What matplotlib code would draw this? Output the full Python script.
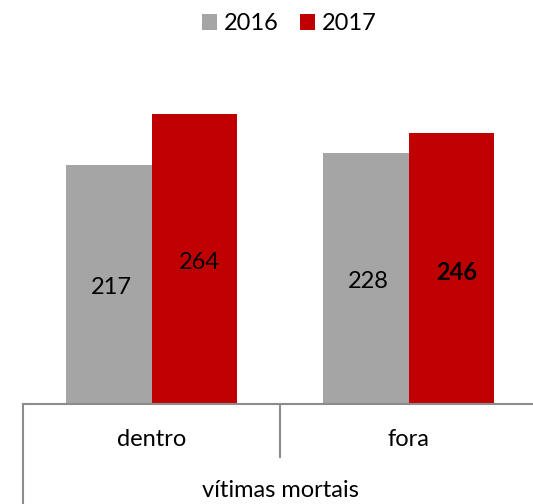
import matplotlib.pyplot as plt
import numpy as np

categories = ["dentro", "fora"]
group_label = "vítimas mortais"
years = ["2016", "2017"]
values_2016 = [217, 228]
values_2017 = [264, 246]

plt.rcParams["font.family"] = ["Lato", "DejaVu Sans"]

grey = "#a5a5a5"
red = "#c00000"
line_col = "#8c8c8c"

fig = plt.figure(figsize=(5.33, 5.04), dpi=100)
ax = fig.add_axes([23 / 533, 100 / 504, 514 / 533, 330 / 504])

x = np.arange(len(categories))
w = 0.331
b1 = ax.bar(x - w / 2, values_2016, w, color=grey, label=years[0])
b2 = ax.bar(x + w / 2, values_2017, w, color=red, label=years[1])

for xi, v in zip(x, values_2016):
    ax.text(xi - w / 2 + 0.01, v / 2 - 3, str(v), ha="center", va="center", fontsize=17)
for i, (xi, v) in enumerate(zip(x, values_2017)):
    ax.text(xi + w / 2 + 0.02, v / 2 - 3, str(v), ha="center", va="center", fontsize=17,
            fontweight="bold" if i == 1 else "normal")

ax.set_xlim(-0.5, 1.5)
ax.set_ylim(0, 300)
for s in ["left", "right", "top"]:
    ax.spines[s].set_visible(False)
ax.spines["bottom"].set_color(line_col)
ax.spines["bottom"].set_linewidth(1.5)
ax.set_xticks([])
ax.set_yticks([])

# category axis with separators
tr = ax.get_xaxis_transform()
ax.plot([-0.5, -0.5], [0, -0.31], transform=tr, color=line_col, lw=1.5, clip_on=False)
ax.plot([0.5, 0.5], [0, -0.1606], transform=tr, color=line_col, lw=1.5, clip_on=False)
for xi, c in zip(x, categories):
    ax.text(xi, -0.109, c, transform=tr, ha="center", va="center", fontsize=17)
ax.text(0.5, -0.262, group_label, transform=tr, ha="center", va="center", fontsize=17)

fig.legend(handles=[b1, b2], loc="upper center", bbox_to_anchor=(0.543, 0.992), ncol=2,
           frameon=False, fontsize=17, handlelength=0.64, handleheight=0.64,
           handletextpad=0.3, columnspacing=0.9, borderaxespad=0.0)

fig.savefig("out.png", dpi=100)
